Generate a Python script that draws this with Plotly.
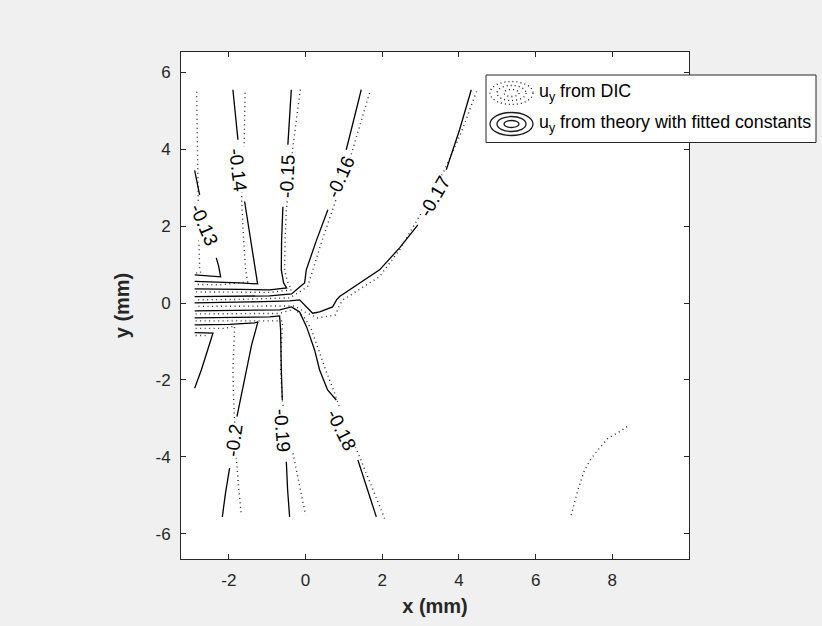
import plotly.graph_objects as go

# ---------------------------------------------------------------
# Contour levels of u_y (mm) and contour paths (x, y in mm).
# None separates pieces of a path where a label breaks the line.
# ---------------------------------------------------------------
levels = [-0.13, -0.14, -0.15, -0.16, -0.17, -0.18, -0.19, -0.20, -0.21]

# theory with fitted constants (solid)
theory_m013 = [(-2.894, 3.45), (-2.764, 2.815), None,
               (-2.33, 1.175), (-2.27, 0.966), (-2.216, 0.68), (-2.503, 0.706), (-2.894, 0.732)]
theory_m014 = [(-1.896, 5.549), (-1.825, 4.898), (-1.765, 4.247), None,
               (-1.591, 2.641), (-1.46, 1.773), (-1.33, 0.992), (-1.252, 0.497),
               (-1.721, 0.523), (-2.373, 0.549), (-2.894, 0.562)]
theory_m015 = [(-0.373, 5.549), (-0.417, 4.82), (-0.462, 4.117), None,
               (-0.592, 2.503), (-0.626, 1.643), (-0.634, 0.862), (-0.574, 0.523), (-0.495, 0.393),
               (-0.939, 0.341), (-1.721, 0.354), (-2.894, 0.367)]
theory_m016 = [(1.452, 5.549), (1.252, 4.768), (1.061, 3.987), None,
               (0.581, 2.424), (0.287, 1.643), (0.018, 0.862), (-0.026, 0.523), (-0.156, 0.419),
               (-0.365, 0.237), (-0.939, 0.185), (-1.721, 0.172), (-2.894, 0.167)]
theory_m017 = [(4.321, 5.549), (4.016, 4.508), (3.669, 3.466), None,
               (2.928, 2.034), (2.451, 1.435), (1.93, 0.862), (1.408, 0.523), (0.887, 0.167),
               (0.808, 0.081), (0.704, -0.102), (0.365, -0.232), (0.183, -0.266), (-0.156, 0.081),
               (-0.417, 0.055), (-1.46, 0.029), (-2.894, 0.003)]
theory_m018 = [(-2.894, -0.206), (-1.721, -0.193), (-0.678, -0.18), (-0.365, -0.1), (-0.156, -0.232),
               (0.026, -0.622), (0.235, -1.221), (0.365, -1.742), (0.574, -2.263), (0.8, -2.523), None,
               (1.364, -4.086), (1.617, -4.867), (1.844, -5.563)]
theory_m019 = [(-2.894, -0.388), (-1.721, -0.375), (-0.939, -0.362), (-0.678, -0.336), (-0.652, -0.7),
               (-0.634, -1.742), (-0.608, -2.523), None,
               (-0.503, -4.13), (-0.469, -4.867), (-0.417, -5.563)]
theory_m020 = [(-2.894, -0.57), (-1.982, -0.557), (-1.33, -0.518), (-1.244, -0.492), (-1.408, -1.091),
               (-1.546, -1.742), (-1.669, -2.393), (-1.791, -2.958), None,
               (-1.982, -4.294), (-2.086, -4.919), (-2.172, -5.563)]
theory_m021 = [(-2.894, -0.771), (-2.417, -0.786), (-2.555, -1.221), (-2.72, -1.742), (-2.894, -2.219)]

# digital image correlation measurement (dotted)
dic_m013 = [(-2.842, 5.497), (-2.816, 3.206), (-2.79, 1.904), (-2.764, 0.914), (-2.738, 0.79), (-2.868, 0.78)]
dic_m014 = [(-1.578, 5.471), (-1.604, 4.091), (-1.64, 3.4), (-1.669, 2.685), (-1.617, 1.643),
            (-1.565, 0.862), (-1.512, 0.549), (-2.243, 0.471), (-2.868, 0.484)]
dic_m015 = [(-0.138, 5.549), (-0.235, 4.82), (-0.331, 4.073), (-0.42, 3.2), (-0.503, 2.424),
            (-0.535, 1.643), (-0.548, 0.862), (-0.469, 0.549), (-0.365, 0.341), (-0.939, 0.276),
            (-2.868, 0.289)]
dic_m016 = [(1.669, 5.463), (1.408, 4.586), (1.147, 3.727), (0.9, 3.0), (0.67, 2.346), (0.417, 1.591),
            (0.19, 0.862), (0.052, 0.427), (-0.156, 0.289), (-0.417, 0.133), (-1.721, 0.094), (-2.868, 0.081)]
dic_m017 = [(4.459, 5.505), (4.068, 4.456), (3.625, 3.466), (3.25, 2.75), (2.887, 2.12), (2.451, 1.383),
            (1.93, 0.688), (1.408, 0.367), (0.973, 0.081), (0.887, -0.049), (0.782, -0.31), (0.313, -0.388),
            (-0.026, -0.232), (-0.287, -0.076), (-1.2, -0.076), (-2.868, -0.089)]
dic_m017_lower = [(6.928, -5.518), (7.1, -4.867), (7.275, -4.346), (7.457, -4.034), (7.622, -3.826),
                  (7.883, -3.521), (8.188, -3.349), (8.449, -3.174)]
dic_m018 = [(-2.868, -0.284), (-0.678, -0.271), (-0.287, -0.154), (-0.026, -0.388), (0.156, -0.7),
            (0.313, -1.143), (0.522, -1.742), (0.756, -2.341), (1.05, -3.2), (1.408, -4.0),
            (1.721, -4.789), (2.06, -5.604)]
dic_m019 = [(-2.868, -0.466), (-0.939, -0.453), (-0.6, -0.466), (-0.626, -0.961), (-0.652, -1.742),
            (-0.6, -2.601), (-0.47, -3.3), (-0.331, -3.904), (-0.156, -4.737), (0.0, -5.518)]
dic_m020 = [(-2.868, -0.661), (-2.112, -0.661), (-1.851, -0.596), (-1.877, -1.091), (-1.896, -1.742),
            (-1.877, -2.523), (-1.851, -3.219), (-1.83, -3.6), (-1.807, -4.034), (-1.747, -4.789),
            (-1.677, -5.518)]
dic_m021 = [(-2.868, -0.844), (-2.6, -0.85)]

# inline contour labels: level, position (mm) and text rotation (deg)
label_levels = [-0.13, -0.14, -0.15, -0.16, -0.17, -0.18, -0.19, -0.20]
label_x = [-2.66, -1.76, -0.477, 0.9, 3.364, 0.947, -0.618, -1.877]
label_y = [2.03, 3.45, 3.29, 3.27, 2.771, -3.305, -3.323, -3.565]
label_angle = [67, 83, -87, -66, -60, 64, 86, -82]

# axis ticks
x_ticks = [-2, 0, 2, 4, 6, 8]
x_tick_labels = ["-2", "0", "2", "4", "6", "8"]
y_ticks = [-6, -4, -2, 0, 2, 4, 6]
y_tick_labels = ["-6", "-4", "-2", "0", "2", "4", "6"]

theory_lines = [theory_m013, theory_m014, theory_m015, theory_m016, theory_m017,
                theory_m018, theory_m019, theory_m020, theory_m021]
dic_lines = [dic_m013, dic_m014, dic_m015, dic_m016, dic_m017, dic_m017_lower,
             dic_m018, dic_m019, dic_m020, dic_m021]

FONT = "Arial, Liberation Sans, Helvetica, sans-serif"
INK = "#262626"
W, H = 822, 626
L, R, T, B = 181, 689, 52, 559   # plot-area edges in pixels


def split_xy(points):
    xs, ys = [], []
    for p in points:
        if p is None:
            xs.append(None)
            ys.append(None)
        else:
            xs.append(p[0])
            ys.append(p[1])
    return xs, ys


def px_x(v):
    return (v - L) / (R - L)


def px_y(v):
    return (B - v) / (B - T)


fig = go.Figure()

for pts in dic_lines:
    xs, ys = split_xy(pts)
    fig.add_trace(go.Scatter(x=xs, y=ys, mode="lines", hoverinfo="skip", showlegend=False,
                             line=dict(color="#2a2a2a", width=1.4, dash="1px,3.5px")))

for pts in theory_lines:
    xs, ys = split_xy(pts)
    fig.add_trace(go.Scatter(x=xs, y=ys, mode="lines", hoverinfo="skip", showlegend=False,
                             line=dict(color="#000000", width=1.3)))

for lvl, lx, ly, ang in zip(label_levels, label_x, label_y, label_angle):
    fig.add_annotation(x=lx, y=ly, xref="x", yref="y", text=f"{lvl:g}", showarrow=False,
                       textangle=ang, font=dict(family=FONT, size=19, color="#000000"),
                       bgcolor="white", borderpad=0)

# legend box drawn by hand: dotted rings for DIC, solid rings for theory
shapes = [dict(type="rect", xref="paper", yref="paper",
               x0=px_x(486), x1=px_x(816), y0=px_y(142.5), y1=px_y(75),
               fillcolor="white", line=dict(color=INK, width=1), layer="above")]
rings = [(21.5, 11.5), (14.5, 7.5), (7.5, 3.5)]
for cy, dash in [(93, "1px,3px"), (124, "solid")]:
    for rx, ry in rings:
        shapes.append(dict(type="circle", xref="paper", yref="paper",
                           x0=px_x(511.5 - rx), x1=px_x(511.5 + rx),
                           y0=px_y(cy + ry), y1=px_y(cy - ry),
                           line=dict(color="#1a1a1a", width=1.3, dash=dash), layer="above"))
fig.update_layout(shapes=shapes)

for cy, txt in [(93, "u<sub>y</sub> from DIC"),
                (123, "u<sub>y</sub> from theory with fitted constants")]:
    fig.add_annotation(xref="paper", yref="paper", x=px_x(537), y=px_y(cy), text=txt,
                       showarrow=False, xanchor="left", yanchor="middle",
                       font=dict(family=FONT, size=17.8, color="#000000"))

fig.update_layout(
    width=W, height=H,
    margin=dict(l=L, r=W - R, t=T, b=H - B),
    paper_bgcolor="#f0f0f0", plot_bgcolor="white",
    showlegend=False,
    font=dict(family=FONT, color=INK, size=17),
)
axis_common = dict(ticks="inside", ticklen=5, tickwidth=1, tickcolor=INK,
                   showline=True, linecolor=INK, linewidth=1, mirror="ticks",
                   showgrid=False, zeroline=False, tickfont=dict(family=FONT, size=17, color=INK))
fig.update_xaxes(range=[-3.25, 10], tickvals=x_ticks, ticktext=x_tick_labels,
                 ticklabelstandoff=6,
                 title=dict(text="<b>x (mm)</b>", font=dict(family=FONT, size=20, color=INK), standoff=9),
                 **axis_common)
fig.update_yaxes(range=[-6.66, 6.53], tickvals=y_ticks, ticktext=y_tick_labels,
                 ticklabelstandoff=6,
                 title=dict(text="<b>y (mm)</b>", font=dict(family=FONT, size=20, color=INK), standoff=20),
                 **axis_common)

fig.write_html("out.html")
